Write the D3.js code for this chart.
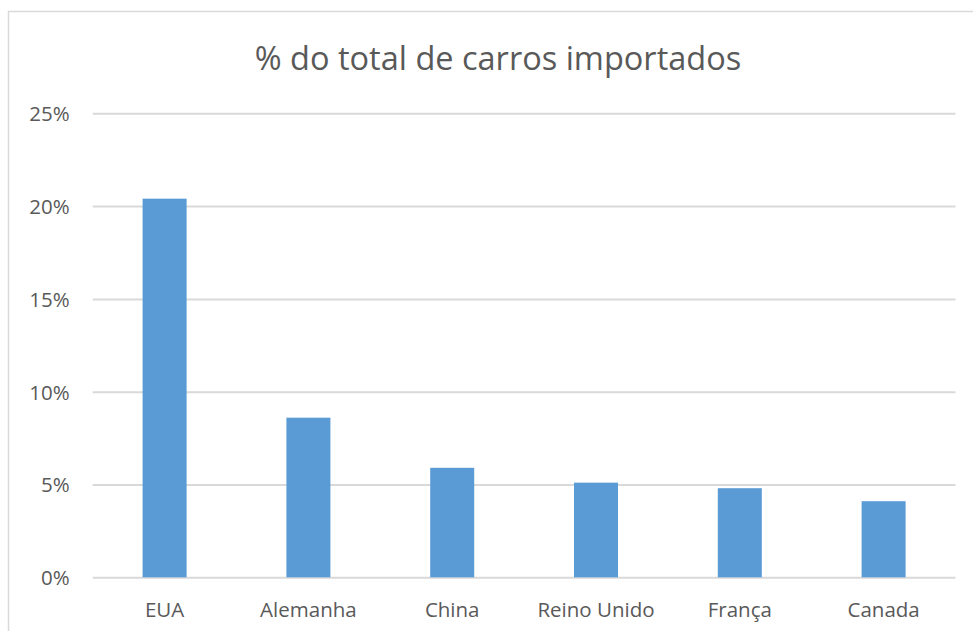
<!DOCTYPE html>
<html>
<head>
<meta charset="utf-8">
<script src="https://cdn.jsdelivr.net/npm/d3@7"></script>
<style>
  html, body { margin: 0; padding: 0; background: #ffffff; }
  svg { display: block; }
  text { font-family: "Open Sans", "Noto Sans", sans-serif; fill: #595959; }
</style>
</head>
<body>
<script>
// Share of imported cars by country of origin
const categories = ["EUA", "Alemanha", "China", "Reino Unido", "França", "Canada"];
const values = [0.204, 0.086, 0.059, 0.051, 0.048, 0.041];
const tickValues = [0, 0.05, 0.10, 0.15, 0.20, 0.25];
const title = "% do total de carros importados";

const W = 973, H = 631;
const plot = { left: 92.7, right: 955.5, top: 113.3, bottom: 577.3 };

const svg = d3.select("body").append("svg")
  .attr("width", W).attr("height", H);

// chart area frame
svg.append("rect")
  .attr("x", 8.5).attr("y", 11.5)
  .attr("width", W + 20).attr("height", H + 20)
  .attr("fill", "#ffffff")
  .attr("stroke", "#d9d9d9").attr("stroke-width", 1.5);

const x = d3.scaleBand()
  .domain(categories)
  .range([plot.left, plot.right])
  .paddingInner(0.694)
  .paddingOuter(0.347);

const y = d3.scaleLinear()
  .domain([0, 0.25])
  .range([plot.bottom, plot.top]);

// horizontal gridlines
const yAxis = d3.axisLeft(y)
  .tickValues(tickValues)
  .tickSize(-(plot.right - plot.left))
  .tickPadding(23)
  .tickFormat(d3.format(".0%"));

const gy = svg.append("g")
  .attr("transform", `translate(${plot.left},0)`)
  .call(yAxis);
gy.select(".domain").remove();
gy.selectAll(".tick line").attr("stroke", "#d9d9d9").attr("stroke-width", 2);
gy.selectAll(".tick text")
  .attr("font-size", 20.5)
  .attr("fill", "#595959")
  .style("font-family", '"Open Sans", "Noto Sans", sans-serif')
  .attr("dy", "0.36em");

// bars
svg.append("g").selectAll("rect")
  .data(values)
  .join("rect")
  .attr("x", (d, i) => x(categories[i]))
  .attr("width", x.bandwidth())
  .attr("y", d => y(d))
  .attr("height", d => y(0) - y(d))
  .attr("fill", "#5b9bd5");

// category labels
const xAxis = d3.axisBottom(x).tickSize(0).tickPadding(25);
const gx = svg.append("g")
  .attr("transform", `translate(0,${plot.bottom})`)
  .call(xAxis);
gx.select(".domain").remove();
gx.selectAll(".tick text")
  .attr("font-size", 20.5)
  .attr("fill", "#595959")
  .style("font-family", '"Open Sans", "Noto Sans", sans-serif');

// title
svg.append("text")
  .attr("x", 498).attr("y", 70)
  .attr("text-anchor", "middle")
  .attr("font-size", 32.5)
  .text(title);
</script>
</body>
</html>
